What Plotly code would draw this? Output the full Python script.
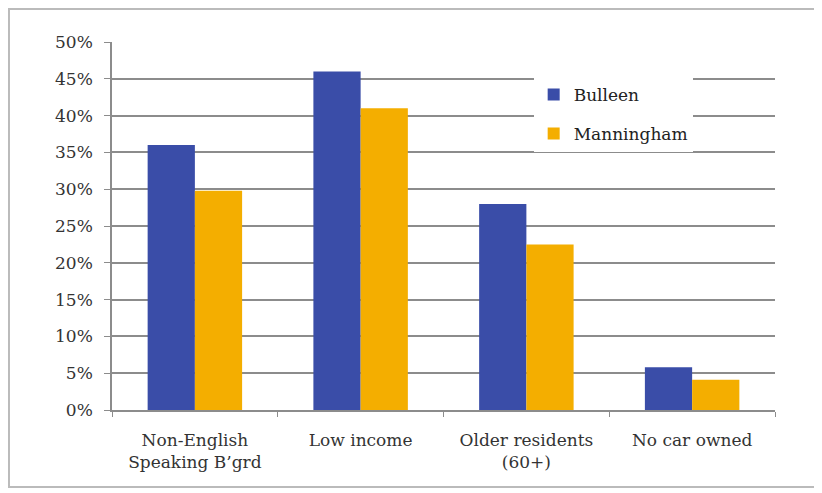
import plotly.graph_objects as go

categories = ["Non-English<br>Speaking B’grd", "Low income", "Older residents<br>(60+)", "No car owned"]
bulleen = [0.36, 0.46, 0.28, 0.058]
manningham = [0.298, 0.41, 0.225, 0.041]
series_names = ["Bulleen", "Manningham"]
colors = ["#3A4DA8", "#F4AE00"]
ytick_vals = [i * 0.05 for i in range(11)]

FONT = "DejaVu Serif"

fig = go.Figure()
for name, vals, col, grp in zip(series_names, [bulleen, manningham], colors, ["a", "b"]):
    fig.add_trace(go.Bar(x=categories, y=vals, name=name, marker_color=col,
                         marker_line_width=0, legendgroup=grp))

fig.update_layout(
    width=814, height=485,
    margin=dict(l=104, r=47, t=34, b=83),
    paper_bgcolor="white", plot_bgcolor="white",
    font=dict(family=FONT, size=17, color="#333333"),
    barmode="group", bargap=0.43, bargroupgap=0,
    showlegend=True,
    legend=dict(x=0.636, y=0.905, xanchor="left", yanchor="top",
                bgcolor="white", font=dict(size=17, color="#222222"),
                tracegroupgap=14, itemwidth=30),
    shapes=[dict(type="rect", xref="paper", yref="paper",
                 x0=-0.1554, x1=1.0649, y0=-0.2092, y1=1.0897,
                 line=dict(color="#BBBBBB", width=2), layer="below")],
)
fig.update_yaxes(range=[0, 0.5], tickvals=ytick_vals, tickformat=".0%",
                 showgrid=True, gridcolor="#8C8C8C", gridwidth=1.5,
                 showline=True, linecolor="#8C8C8C", linewidth=1.5,
                 ticks="outside", ticklen=6, tickcolor="#8C8C8C",
                 ticklabelstandoff=8, zeroline=False)
fig.update_xaxes(showline=True, linecolor="#8C8C8C", linewidth=1.5,
                 ticks="outside", tickson="boundaries", ticklen=5, tickcolor="#8C8C8C",
                 showgrid=False, ticklabelstandoff=14)

fig.write_html("out.html")
